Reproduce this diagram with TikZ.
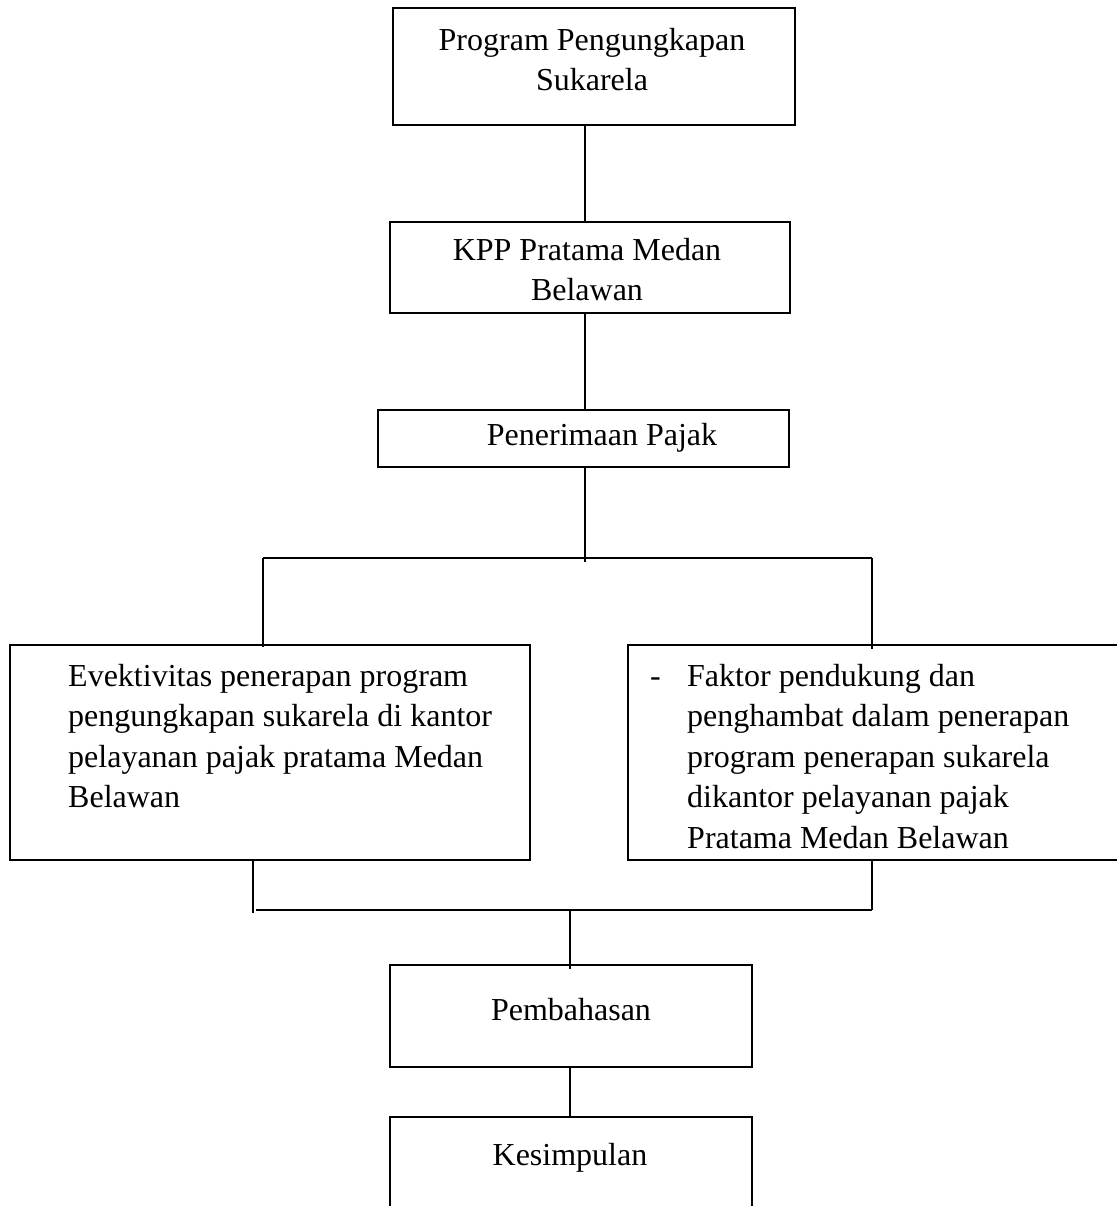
\documentclass[tikz,border=0pt]{standalone}
\usepackage{fontspec}
\setmainfont{Liberation Serif}
\begin{document}
\begin{tikzpicture}[x=1pt, y=-1pt,
	box/.style={draw, line width=2.7pt, inner sep=0pt},
	txt/.style={inner sep=0pt, font=\fontsize{32}{40}\selectfont},
	wide/.style={inner sep=0pt, align=left, font=\fontsize{32}{40.5}\selectfont},
	link/.style={line width=2.8pt}]
	\useasboundingbox (0, 0) rectangle (1116, 1206);

	% boxes
	\node[box, minimum width=402pt, minimum height=117pt] (prog) at (594, 66.5) {};
	\node[box, minimum width=400pt, minimum height=91pt] (kpp) at (590, 267.5) {};
	\node[box, minimum width=411pt, minimum height=57pt] (pajak) at (583.5, 438.5) {};
	\node[box, minimum width=520pt, minimum height=215pt] (evek) at (270, 752.5) {};
	\node[box, minimum width=502pt, minimum height=215pt] (faktor) at (879, 752.5) {};
	\node[box, minimum width=362pt, minimum height=102pt] (bahas) at (571, 1016) {};
	\node[box, minimum width=362pt, minimum height=143pt] (simpul) at (571, 1188.5) {};

	% texts
	\node[txt, align=center, anchor=north] (progtxt) at (592, 28) {Program Pengungkapan\\Sukarela};
	\node[txt, align=center, anchor=north] (kpptxt) at (587, 238) {KPP Pratama Medan\\Belawan};
	\node[txt, anchor=north] (pajaktxt) at (602, 423) {Penerimaan Pajak};
	\node[wide, anchor=north west] (evektxt) at (68, 664)
		{Evektivitas penerapan program\\pengungkapan sukarela di kantor\\pelayanan pajak pratama Medan\\Belawan};
	\node[wide, anchor=north west] (faktortxt) at (650, 664)
		{\makebox[37pt][l]{-}Faktor pendukung dan\\\hspace*{37pt}penghambat dalam penerapan\\\hspace*{37pt}program penerapan sukarela\\\hspace*{37pt}dikantor pelayanan pajak\\\hspace*{37pt}Pratama Medan Belawan};
	\node[txt, anchor=north] (bahastxt) at (571, 998) {Pembahasan};
	\node[txt, anchor=north] (simpultxt) at (570, 1143) {Kesimpulan};

	% branch points
	\coordinate (split) at (585, 558);
	\coordinate (splitL) at (263, 558);
	\coordinate (splitR) at (872, 558);
	\coordinate (joinL) at (253, 910);
	\coordinate (joinR) at (872, 910);
	\coordinate (join) at (570, 910);

	% connectors
	\draw[link] (prog.south -| split) -- (kpp.north -| split);
	\draw[link] (kpp.south -| split) -- (pajak.north -| split);
	\draw[link] (pajak.south -| split) -- ([yshift=-4pt]split);
	\draw[link] (splitL) -- (splitR);
	\draw[link] (splitL) -- ([yshift=-3pt]evek.north -| splitL);
	\draw[link] (splitR) -- ([yshift=-5pt]faktor.north -| splitR);
	\draw[link] (evek.south -| joinL) -- ([yshift=-3pt]joinL);
	\draw[link] ([xshift=3pt]joinL) -- (joinR);
	\draw[link] (faktor.south -| joinR) -- (joinR);
	\draw[link] (join) -- ([yshift=-5pt]bahas.north -| join);
	\draw[link] (bahas.south -| join) -- (simpul.north -| join);
\end{tikzpicture}
\end{document}
